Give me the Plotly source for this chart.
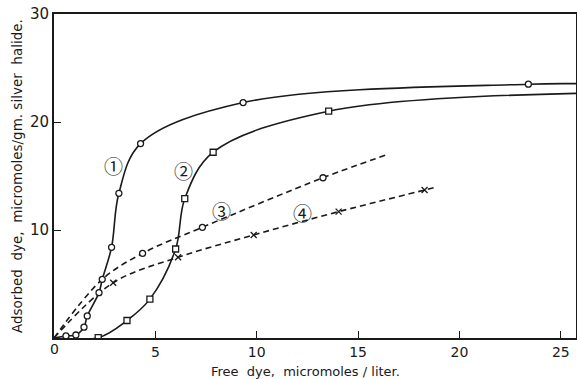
import plotly.graph_objects as go

# Curve 1 (circles, solid)
c1_line_x = [0, 0.59, 1.08, 1.48, 1.64, 2.22, 2.38, 2.84, 3.2, 4.27, 9.33, 23.4, 25.75]
c1_line_y = [0, 0.19, 0.28, 1.0, 2.04, 4.2, 5.43, 8.4, 13.4, 18.0, 21.8, 23.5, 23.55]
c1_pts_x = [0.59, 1.08, 1.48, 1.64, 2.22, 2.38, 2.84, 3.2, 4.27, 9.33, 23.4]
c1_pts_y = [0.19, 0.28, 1.0, 2.04, 4.2, 5.43, 8.4, 13.4, 18.0, 21.8, 23.5]

# Curve 2 (squares, solid)
c2_line_x = [0, 2.18, 3.6, 4.73, 6.0, 6.45, 7.85, 13.55, 25.75]
c2_line_y = [0, 0.03, 1.62, 3.6, 8.24, 12.9, 17.2, 21.0, 22.65]
c2_pts_x = [2.18, 3.6, 4.73, 6.0, 6.45, 7.85, 13.55]
c2_pts_y = [0.03, 1.62, 3.6, 8.24, 12.9, 17.2, 21.0]

# Curve 3 (circles, dashed)
c3_line_x = [0, 2.38, 4.37, 7.32, 13.27, 16.47]
c3_line_y = [0, 5.43, 7.84, 10.25, 14.84, 17.0]
c3_pts_x = [4.37, 7.32, 13.27]
c3_pts_y = [7.84, 10.25, 14.84]

# Curve 4 (crosses, dashed)
c4_line_x = [0, 2.92, 6.12, 9.85, 14.04, 18.28, 18.9]
c4_line_y = [0, 5.12, 7.47, 9.54, 11.7, 13.7, 14.0]
c4_pts_x = [2.92, 6.12, 9.85, 14.04, 18.28]
c4_pts_y = [5.12, 7.47, 9.54, 11.7, 13.7]

labels = ["①", "②", "③", "④"]
label_x = [2.92, 6.4, 8.26, 12.28]
label_y = [16.0, 15.55, 11.8, 11.64]

x_ticks = [5, 10, 15, 20, 25]
y_ticks = [10, 20, 30]

x_title = "Free  dye,  micromoles / liter."
y_title = "Adsorbed  dye,  micromoles/gm. silver  halide."

ink = "#1a1a1a"
fig = go.Figure()

def line(x, y, dash):
    fig.add_trace(go.Scatter(x=x, y=y, mode="lines",
                             line=dict(color=ink, width=1.6, dash=dash, shape="spline", smoothing=1.0),
                             showlegend=False, hoverinfo="skip", cliponaxis=False))

def pts(x, y, sym, size=6):
    fig.add_trace(go.Scatter(x=x, y=y, mode="markers",
                             marker=dict(symbol=sym, size=size, color="white",
                                         line=dict(color=ink, width=1.3)),
                             showlegend=False))

line(c1_line_x, c1_line_y, "solid")
line(c2_line_x, c2_line_y, "solid")
line(c3_line_x, c3_line_y, "6px,4px")
line(c4_line_x, c4_line_y, "6px,4px")
pts(c1_pts_x, c1_pts_y, "circle")
pts(c2_pts_x, c2_pts_y, "square")
pts(c3_pts_x, c3_pts_y, "circle")
fig.add_trace(go.Scatter(x=c4_pts_x, y=c4_pts_y, mode="markers",
                         marker=dict(symbol="x-thin", size=6, color=ink, line=dict(color=ink, width=1.3)),
                         showlegend=False))

for t, x, y in zip(labels, label_x, label_y):
    fig.add_annotation(x=x, y=y, text=t, showarrow=False,
                       font=dict(size=19, color=ink, family="Noto Sans CJK JP"))

# origin label shared by both axes
fig.add_annotation(x=0, y=0, text="0", showarrow=False, xanchor="center", yanchor="top",
                   yshift=-1, font=dict(size=14, color=ink))
fig.add_annotation(xref="paper", yref="paper", x=0.5, y=0, xshift=-10, yshift=-24, text=x_title,
                   showarrow=False, xanchor="center", yanchor="top", font=dict(size=13, color=ink))
fig.add_annotation(xref="paper", yref="paper", x=0, xshift=-37, y=0.5, text=y_title, textangle=-90,
                   showarrow=False, xanchor="center", yanchor="middle", font=dict(size=13.5, color=ink))

fig.update_layout(
    width=577, height=379,
    margin=dict(l=54, r=1, t=14, b=41),
    paper_bgcolor="white", plot_bgcolor="white",
    font=dict(family="DejaVu Sans", color=ink),
    xaxis=dict(range=[0, 25.75], tickvals=x_ticks, ticktext=[str(v) for v in x_ticks],
               ticks="inside", ticklen=7, tickwidth=1.2, tickcolor=ink,
               showline=True, linewidth=2, linecolor=ink, mirror=True, automargin=False,
               showgrid=False, zeroline=False, tickfont=dict(size=14)),
    yaxis=dict(range=[0, 30], tickvals=y_ticks, ticktext=[str(v) for v in y_ticks],
               ticks="inside", ticklen=7, tickwidth=1.2, tickcolor=ink,
               showline=True, linewidth=2, linecolor=ink, mirror=True, automargin=False,
               showgrid=False, zeroline=False, tickfont=dict(size=15)),
)

fig.write_html("out.html", config={"displayModeBar": False},
               post_script="document.body.style.margin='0';")
